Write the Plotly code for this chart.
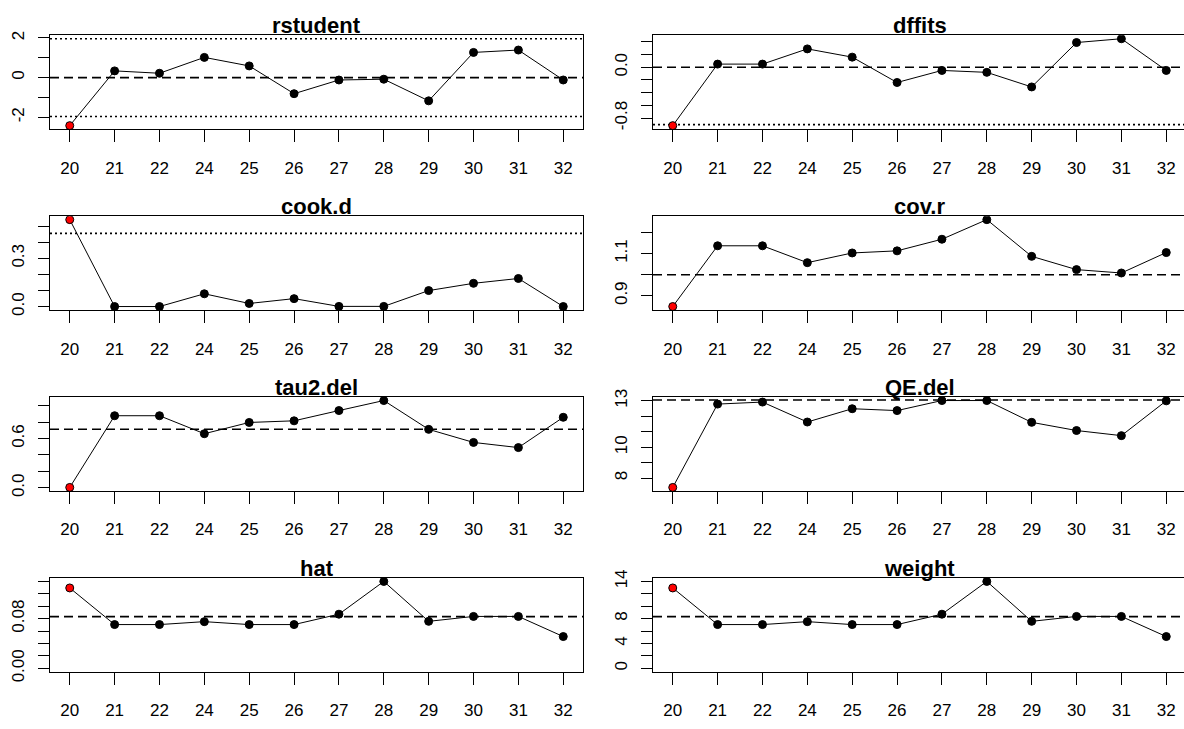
import plotly.graph_objects as go

# ---------------- data ----------------
studies = ["20", "21", "22", "24", "25", "26", "27", "28", "29", "30", "31", "32"]

rstudent = [-2.42, 0.34, 0.22, 1.02, 0.59, -0.81, -0.12, -0.08, -1.17, 1.27, 1.39, -0.12]
dffits = [-0.92, 0.05, 0.05, 0.29, 0.16, -0.24, -0.05, -0.08, -0.31, 0.39, 0.45, -0.05]
cook_d = [0.54, 0.001, 0.001, 0.08, 0.02, 0.05, 0.002, 0.002, 0.10, 0.145, 0.175, 0.001]
cov_r = [0.849, 1.137, 1.137, 1.057, 1.103, 1.113, 1.168, 1.261, 1.087, 1.024, 1.008, 1.105]
tau2_del = [0.005, 0.878, 0.878, 0.659, 0.796, 0.816, 0.941, 1.063, 0.712, 0.553, 0.49, 0.859]
QE_del = [7.4, 12.79, 12.92, 11.63, 12.49, 12.37, 13.02, 13.02, 11.61, 11.08, 10.75, 13.0]
hat = [0.1295, 0.0705, 0.0705, 0.0752, 0.0705, 0.0705, 0.0872, 0.140, 0.0757, 0.0836, 0.0836, 0.0512]
weight = [12.95, 7.05, 7.05, 7.52, 7.05, 7.05, 8.72, 14.0, 7.57, 8.36, 8.36, 5.12]

influential = [True] + [False] * 11

# reference lines
rstudent_dotted = [-1.96, 1.96]
dffits_dotted = [-0.9045, 0.9045]
cook_dotted = [0.4549]
cov_dashed = [1.0]
rstudent_dashed = [0.0]
dffits_dashed = [0.0]
tau2_dashed = [0.714]
QE_dashed = [13.05]
hat_dashed = [1 / 12]
weight_dashed = [100 / 12]

# y tick values / labels
rstudent_ticks = [-2, -1, 0, 1, 2]
rstudent_labels = ["-2", "", "0", "", "2"]
dffits_ticks = [-0.8, -0.6, -0.4, -0.2, 0.0, 0.2, 0.4]
dffits_labels = ["-0.8", "", "", "", "0.0", "", ""]
cook_ticks = [0.0, 0.1, 0.2, 0.3, 0.4, 0.5]
cook_labels = ["0.0", "", "", "0.3", "", ""]
cov_ticks = [0.9, 1.0, 1.1, 1.2]
cov_labels = ["0.9", "", "1.1", ""]
tau2_ticks = [0.0, 0.2, 0.4, 0.6, 0.8, 1.0]
tau2_labels = ["0.0", "", "", "0.6", "", ""]
QE_ticks = [8, 9, 10, 11, 12, 13]
QE_labels = ["8", "", "10", "", "", "13"]
hat_ticks = [0.00, 0.02, 0.04, 0.06, 0.08, 0.10, 0.12, 0.14]
hat_labels = ["0.00", "", "", "", "0.08", "", "", ""]
weight_ticks = [0, 2, 4, 6, 8, 10, 12, 14]
weight_labels = ["0", "", "4", "", "8", "", "", "14"]

panels = [
    dict(title="rstudent", y=rstudent, tv=rstudent_ticks, tt=rstudent_labels,
         dashed=rstudent_dashed, dotted=rstudent_dotted, extra=rstudent_dotted),
    dict(title="dffits", y=dffits, tv=dffits_ticks, tt=dffits_labels,
         dashed=dffits_dashed, dotted=dffits_dotted, extra=[]),
    dict(title="cook.d", y=cook_d, tv=cook_ticks, tt=cook_labels,
         dashed=[], dotted=cook_dotted, extra=[]),
    dict(title="cov.r", y=cov_r, tv=cov_ticks, tt=cov_labels,
         dashed=cov_dashed, dotted=[], extra=[]),
    dict(title="tau2.del", y=tau2_del, tv=tau2_ticks, tt=tau2_labels,
         dashed=tau2_dashed, dotted=[], extra=[]),
    dict(title="QE.del", y=QE_del, tv=QE_ticks, tt=QE_labels,
         dashed=QE_dashed, dotted=[], extra=[]),
    dict(title="hat", y=hat, tv=hat_ticks, tt=hat_labels,
         dashed=hat_dashed, dotted=[], extra=[0]),
    dict(title="weight", y=weight, tv=weight_ticks, tt=weight_labels,
         dashed=weight_dashed, dotted=[], extra=[0]),
]

# ---------------- layout geometry ----------------
W, H = 1184, 729
LEFT_X0, LEFT_X1 = 50, 583
RIGHT_X0 = 653
ROW_TOP = [27, 213, 399, 585]
BOX_H = 96.5
PX_PER_UNIT = (LEFT_X1 - LEFT_X0) / 11.88
FONT = "Liberation Sans, Arial, sans-serif"

fig = go.Figure()
layout = dict(
    width=W, height=H, margin=dict(l=0, r=0, t=0, b=0),
    paper_bgcolor="white", plot_bgcolor="white", showlegend=False,
    font=dict(family=FONT, color="black"),
)
shapes = []
annotations = []

for i, p in enumerate(panels):
    row, col = divmod(i, 2)
    n = i + 1
    xa = "xaxis" if n == 1 else f"xaxis{n}"
    ya = "yaxis" if n == 1 else f"yaxis{n}"
    xr = "x" if n == 1 else f"x{n}"
    yr = "y" if n == 1 else f"y{n}"

    if col == 0:
        xd = [LEFT_X0 / W, LEFT_X1 / W]
        xrange = [-0.44, 11.44]
        box_center = (LEFT_X0 + LEFT_X1) / 2
    else:
        xd = [RIGHT_X0 / W, 1.0]
        xrange = [-0.44, -0.44 + (W - RIGHT_X0) / PX_PER_UNIT]
        box_center = RIGHT_X0 + (LEFT_X1 - LEFT_X0) / 2
    top = ROW_TOP[row]
    yd = [1 - (top + BOX_H) / H, 1 - top / H]

    vals = list(p["y"]) + list(p["extra"])
    lo, hi = min(vals), max(vals)
    ext = 0.04 * (hi - lo)
    yrange = [lo - ext, hi + ext]

    layout[xa] = dict(
        domain=xd, range=xrange, type="category", anchor=yr,
        showline=True, mirror=True, linecolor="black", linewidth=1.3,
        ticks="outside", ticklen=12, tickwidth=1.3, tickcolor="black",
        showgrid=False, zeroline=False, fixedrange=True,
        tickfont=dict(size=17, family=FONT, color="black"),
        ticklabelstandoff=11,
    )
    layout[ya] = dict(
        domain=yd, range=yrange, anchor=xr,
        showline=True, mirror=(col == 0), linecolor="black", linewidth=1.3,
        ticks="outside", ticklen=11, tickwidth=1.3, tickcolor="black",
        tickmode="array", tickvals=p["tv"], ticktext=p["tt"],
        tickangle=-90, showgrid=False, zeroline=False, fixedrange=True,
        tickfont=dict(size=17, family=FONT, color="black"),
        ticklabelstandoff=7,
    )

    fig.add_trace(go.Scatter(
        x=studies, y=p["y"], mode="lines+markers", xaxis=xr, yaxis=yr,
        line=dict(color="black", width=1),
        marker=dict(
            size=8, symbol="circle",
            color=["red" if f else "black" for f in influential],
            line=dict(color="black", width=1),
        ),
        cliponaxis=True, hoverinfo="skip",
    ))

    for v in p["dashed"]:
        shapes.append(dict(type="line", xref=f"{xr} domain", yref=yr,
                           x0=0, x1=1, y0=v, y1=v,
                           line=dict(color="black", width=1.6, dash="9px,5px"),
                           layer="below"))
    for v in p["dotted"]:
        if yrange[0] <= v <= yrange[1]:
            shapes.append(dict(type="line", xref=f"{xr} domain", yref=yr,
                               x0=0, x1=1, y0=v, y1=v,
                               line=dict(color="black", width=1.6, dash="2px,3px"),
                               layer="below"))

    annotations.append(dict(
        text=f"<b>{p['title']}</b>", xref="paper", yref="paper",
        x=box_center / W, y=1 - top / H, xanchor="center", yanchor="bottom",
        yshift=-5, showarrow=False,
        font=dict(size=22, family=FONT, color="black"),
    ))

layout["shapes"] = shapes
layout["annotations"] = annotations
fig.update_layout(**layout)
fig.write_html("out.html")
